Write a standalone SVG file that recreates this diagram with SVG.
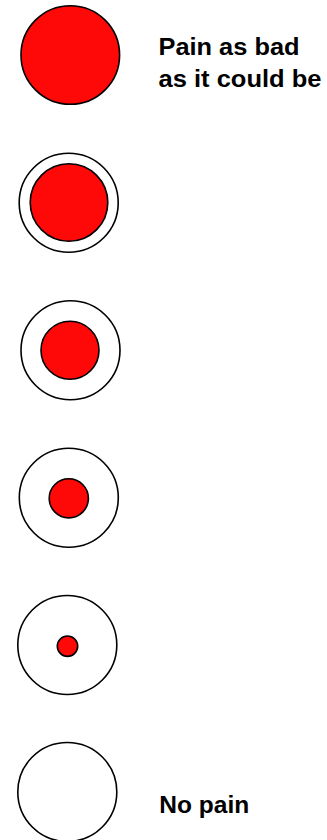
<svg xmlns="http://www.w3.org/2000/svg" width="327" height="840" viewBox="0 0 327 840">
<style>
.o{fill:#ffffff;stroke:#000000;stroke-width:1.6}
.r{fill:#ff0808;stroke:#000000;stroke-width:1.6}
.t{font-family:"Liberation Sans",Arial,sans-serif;font-weight:bold;font-size:23.5px;fill:#000000}
</style>
<rect width="327" height="840" fill="#ffffff"/>
<g id="level5">
<circle class="r" cx="70.3" cy="55" r="49.3"/>
</g>
<g id="level4">
<circle class="o" cx="68.7" cy="202.8" r="49.5"/>
<circle class="r" cx="69" cy="202.5" r="38.8"/>
</g>
<g id="level3">
<circle class="o" cx="70.5" cy="350.2" r="49.5"/>
<circle class="r" cx="70" cy="350.2" r="29"/>
</g>
<g id="level2">
<circle class="o" cx="68.8" cy="497.7" r="49.5"/>
<circle class="r" cx="68.8" cy="498.3" r="19.6"/>
</g>
<g id="level1">
<circle class="o" cx="67.3" cy="645" r="49.5"/>
<circle class="r" cx="67.5" cy="646.2" r="10.2"/>
</g>
<g id="level0">
<circle class="o" cx="67.3" cy="792" r="49.5"/>
</g>
<g id="labels">
<text class="t" x="158.5" y="55" textLength="141" lengthAdjust="spacingAndGlyphs">Pain as bad</text>
<text class="t" x="158.5" y="87.3" textLength="163" lengthAdjust="spacingAndGlyphs">as it could be</text>
<text class="t" x="159.3" y="812.5" textLength="90" lengthAdjust="spacingAndGlyphs">No pain</text>
</g>
</svg>
